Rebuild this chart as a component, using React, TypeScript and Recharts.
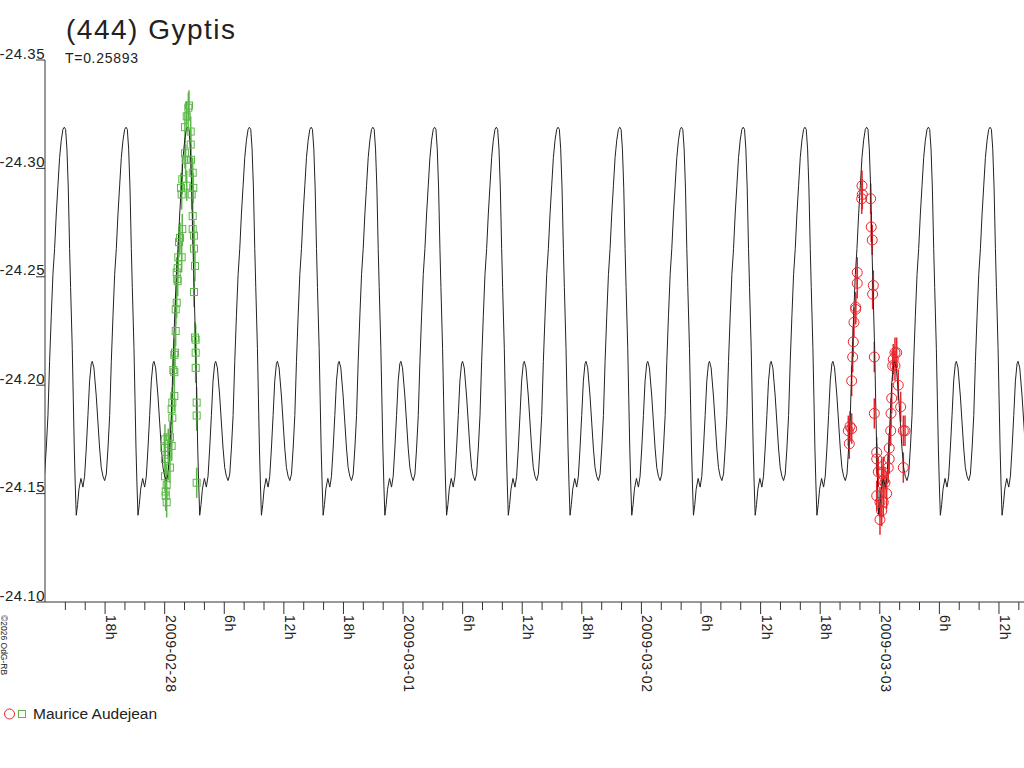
import React from 'react';
import { ComposedChart, Line, Scatter, XAxis, YAxis, ErrorBar } from 'recharts';

// time is in hours from 2009-02-28 00:00 UT, magnitudes as plotted
const PERIOD_DAYS = 0.25893;
const FIRST_PEAK_H = -10.11;
const X_MIN = -12.05;
const X_MAX = 86.52;

const Y_TICKS = [-24.35, -24.3, -24.25, -24.2, -24.15, -24.1];
const X_TICKS = Array.from({ length: 49 }, (_, i) => -10 + i * 2);
const DAY_LABELS = ['2009-02-28', '2009-03-01', '2009-03-02', '2009-03-03'];

// one rotation of the model curve: hours from the main maximum, magnitude
const PROFILE: [number, number][] = [
  [-2.148, -24.156], [-1.98, -24.159], [-1.812, -24.171], [-1.644, -24.186],
  [-1.477, -24.211], [-1.309, -24.232], [-1.141, -24.251], [-0.973, -24.263],
  [-0.805, -24.279], [-0.638, -24.292], [-0.47, -24.305], [-0.302, -24.313],
  [-0.134, -24.318], [0, -24.319], [0.134, -24.318], [0.268, -24.309],
  [0.403, -24.291], [0.537, -24.263], [0.638, -24.245], [0.805, -24.217],
  [0.906, -24.194], [1.007, -24.171], [1.107, -24.154], [1.208, -24.14],
  [1.342, -24.145], [1.477, -24.152], [1.678, -24.157], [1.879, -24.153],
  [2.047, -24.158], [2.215, -24.171], [2.383, -24.186], [2.55, -24.202],
  [2.718, -24.21], [2.819, -24.211], [2.987, -24.208], [3.221, -24.195],
  [3.389, -24.183], [3.557, -24.171], [3.725, -24.162], [3.893, -24.158],
  [4.06, -24.156],
];

// Maurice Audejean, session 1 (squares)
const GREEN_T = [
  2.45, 2.38, 2.22, 2.04, 2.62, 2.62, 2.04, 2.11, 2.65, 2.82, 1.77, 1.64, 2.22,
  2.88, 2.72, 1.71, 2.82, 1.77, 2.82, 2.95, 1.54, 1.44, 2.95, 1.37, 1.71, 3.05,
  1.31, 1.21, 1.27, 1.31, 2.95, 1.21, 1.11, 1.11, 3.05, 3.12, 3.12, 1.04, 0.97,
  0.87, 0.97, 3.12, 0.97, 0.77, 3.22, 0.7, 0.77, 3.22, 0.53, 0.03, 0.36, -0.04,
  0.7, 0.03, 0.36, 0.53, 0.03, 3.22, 0.2, 0.1, 0.1, 0.2,
];
const GREEN_MAG = [
  -24.329, -24.328, -24.324, -24.319, -24.317, -24.311, -24.307, -24.304, -24.304,
  -24.298, -24.295, -24.291, -24.292, -24.291, -24.288, -24.288, -24.278, -24.272,
  -24.272, -24.269, -24.268, -24.266, -24.263, -24.259, -24.259, -24.255, -24.254,
  -24.252, -24.249, -24.248, -24.243, -24.238, -24.235, -24.225, -24.222, -24.221,
  -24.215, -24.215, -24.214, -24.207, -24.206, -24.208, -24.195, -24.192, -24.192,
  -24.189, -24.185, -24.186, -24.176, -24.175, -24.173, -24.171, -24.172, -24.166,
  -24.168, -24.162, -24.158, -24.155, -24.154, -24.151, -24.149, -24.146,
];

// Maurice Audejean, session 2 (circles)
const RED_T = [
  70.21, 70.24, 70.18, 71.08, 71.14, 71.24, 69.73, 69.73, 71.35, 71.28, 69.57,
  69.57, 69.4, 69.33, 69.27, 71.45, 73.53, 73.7, 73.36, 73.53, 69.17, 73.3, 73.86,
  73.2, 74.1, 71.45, 73.13, 69.0, 69.17, 68.83, 68.93, 74.37, 74.54, 73.1, 72.95,
  71.69, 71.69, 72.95, 72.85, 74.37, 71.85, 72.35, 72.19, 72.35, 72.52, 72.69,
  71.69, 72.02, 72.35, 72.19, 72.02,
];
const RED_MAG = [
  -24.292, -24.288, -24.286, -24.286, -24.273, -24.267, -24.252, -24.247, -24.246,
  -24.242, -24.236, -24.235, -24.229, -24.22, -24.213, -24.213, -24.215, -24.215,
  -24.212, -24.209, -24.202, -24.209, -24.2, -24.194, -24.19, -24.187, -24.187,
  -24.181, -24.18, -24.179, -24.173, -24.179, -24.179, -24.179, -24.171, -24.169,
  -24.166, -24.166, -24.162, -24.162, -24.16, -24.16, -24.159, -24.156, -24.155,
  -24.15, -24.149, -24.146, -24.146, -24.142, -24.138,
];
const MAG_ERR = 0.007;

const FONT = '"Liberation Sans", Arial, sans-serif';
const TEXT = '#222';
const AXIS = '#333';
const RED = '#e8262c';
const GREEN = '#5cb848';

const periodH = PERIOD_DAYS * 24;
const modelData: { t: number; mag: number }[] = [];
for (let k = -1; k <= 16; k++) {
  for (const [h, mag] of PROFILE.slice(0, -1)) {
    const t = FIRST_PEAK_H + k * periodH + h;
    if (t >= X_MIN - 0.3 && t <= X_MAX + 0.3) modelData.push({ t, mag });
  }
}
const greenData = GREEN_T.map((t, i) => ({ t, mag: GREEN_MAG[i], err: MAG_ERR }));
const redData = RED_T.map((t, i) => ({ t, mag: RED_MAG[i], err: MAG_ERR }));

const YTick = (props: any) => {
  const { x, y, payload } = props;
  return (
    <g>
      <line x1={x - 9} x2={x} y1={y} y2={y} stroke={AXIS} />
      <text x={x} y={y - 1.5} textAnchor="end" fontSize={15} letterSpacing={0.5} fill={TEXT} fontFamily={FONT}>
        {payload.value.toFixed(2)}
      </text>
    </g>
  );
};

const XTick = (props: any) => {
  const { x, y, payload } = props;
  const v = payload.value as number;
  const major = v % 6 === 0;
  let label: string | null = null;
  if (major) {
    const hod = ((v % 24) + 24) % 24;
    label = hod === 0 ? DAY_LABELS[v / 24] : `${hod}h`;
  }
  return (
    <g>
      <line x1={x} x2={x} y1={y} y2={y + (major ? 12 : 8)} stroke={AXIS} />
      {label && (
        <text transform={`translate(${x + 1},${y + 13}) rotate(90)`} fontSize={14} letterSpacing={0.6} fill={TEXT} fontFamily={FONT}>
          {label}
        </text>
      )}
    </g>
  );
};

const Square = (props: any) => (
  <rect x={props.cx - 3.5} y={props.cy - 3.5} width={7} height={7} fill="none" stroke={GREEN} />
);
const Ring = (props: any) => <circle cx={props.cx} cy={props.cy} r={5} fill="none" stroke={RED} />;

export default function App() {
  return (
    <div style={{ position: 'absolute', left: 0, top: 0, width: 1024, height: 768, background: '#fff' }}>
      <ComposedChart width={1024} height={768} margin={{ top: 60, right: 0, bottom: 146, left: 0 }}>
        <XAxis
          dataKey="t"
          type="number"
          domain={[X_MIN, X_MAX]}
          allowDataOverflow
          ticks={X_TICKS}
          interval={0}
          tickSize={0}
          tickMargin={0}
          tick={XTick}
          height={20}
          axisLine={{ stroke: AXIS }}
        />
        <YAxis
          dataKey="mag"
          type="number"
          domain={[-24.35, -24.1]}
          reversed
          allowDataOverflow
          ticks={Y_TICKS}
          interval={0}
          tickSize={0}
          tickMargin={0}
          tick={YTick}
          width={45}
          axisLine={{ stroke: AXIS }}
        />
        <Scatter data={greenData} dataKey="mag" shape={Square} isAnimationActive={false}>
          <ErrorBar dataKey="err" direction="y" width={0} stroke={GREEN} />
        </Scatter>
        <Scatter data={redData} dataKey="mag" shape={Ring} isAnimationActive={false}>
          <ErrorBar dataKey="err" direction="y" width={0} stroke={RED} />
        </Scatter>
        <Line
          data={modelData}
          dataKey="mag"
          type="linear"
          stroke="#222"
          strokeWidth={1}
          dot={false}
          activeDot={false}
          isAnimationActive={false}
        />
      </ComposedChart>
      <svg width={1024} height={768} style={{ position: 'absolute', left: 0, top: 0, pointerEvents: 'none' }} fontFamily={FONT}>
        <text x={66} y={39} fontSize={28} letterSpacing={1.5} fill={TEXT}>(444) Gyptis</text>
        <text x={65} y={63} fontSize={14} letterSpacing={0.7} fill={TEXT}>T=0.25893</text>
        <text transform="translate(0.5,615) rotate(90)" fontSize={8.5} fill={TEXT}>©2026 OdG-RB</text>
        <circle cx={9.5} cy={714} r={5} fill="none" stroke={RED} />
        <rect x={18.5} y={710.5} width={7} height={7} fill="none" stroke={GREEN} />
        <text x={33} y={718.5} fontSize={15.5} fill={TEXT}>Maurice Audejean</text>
      </svg>
    </div>
  );
}
